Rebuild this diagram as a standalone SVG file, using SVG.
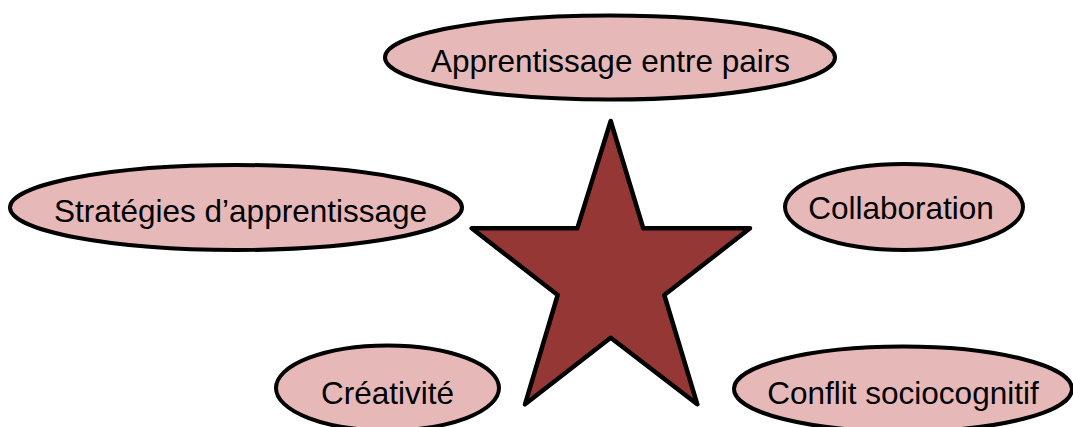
<svg xmlns="http://www.w3.org/2000/svg" width="1073" height="427" viewBox="0 0 1073 427">
<style>
.node ellipse{fill:#E6B9B8;stroke:#000;stroke-width:4}
.node text{font-family:"Liberation Sans",Arial,sans-serif;font-size:31.5px;fill:#000;text-anchor:middle}
#star polygon{fill:#953735;stroke:#000;stroke-width:4.5;stroke-linejoin:round}
</style>
<rect width="1073" height="427" fill="#fff"/>
<g id="connectors"></g>
<g id="star">
<polygon points="610.7,121 643.3,228.3 750,228.3 664.3,295 697.3,404.3 610.7,337.7 525,404.3 557.7,295 471.7,228.3 577.3,228.3"/>
</g>
<g id="n-apprentissage" class="node">
<ellipse cx="610" cy="57.5" rx="225" ry="42"/>
<text x="610.5" y="72">Apprentissage entre pairs</text>
</g>
<g id="n-strategies" class="node">
<ellipse cx="236" cy="207.5" rx="226" ry="42.5"/>
<text x="240.5" y="222">Stratégies d’apprentissage</text>
</g>
<g id="n-collaboration" class="node">
<ellipse cx="904" cy="207" rx="119" ry="43"/>
<text x="901" y="219">Collaboration</text>
</g>
<g id="n-creativite" class="node">
<ellipse cx="387.5" cy="388" rx="111.5" ry="42.5"/>
<text x="387.5" y="404">Créativité</text>
</g>
<g id="n-conflit" class="node">
<ellipse cx="903" cy="389" rx="169" ry="42.5"/>
<text x="903" y="403.5">Conflit sociocognitif</text>
</g>
</svg>
